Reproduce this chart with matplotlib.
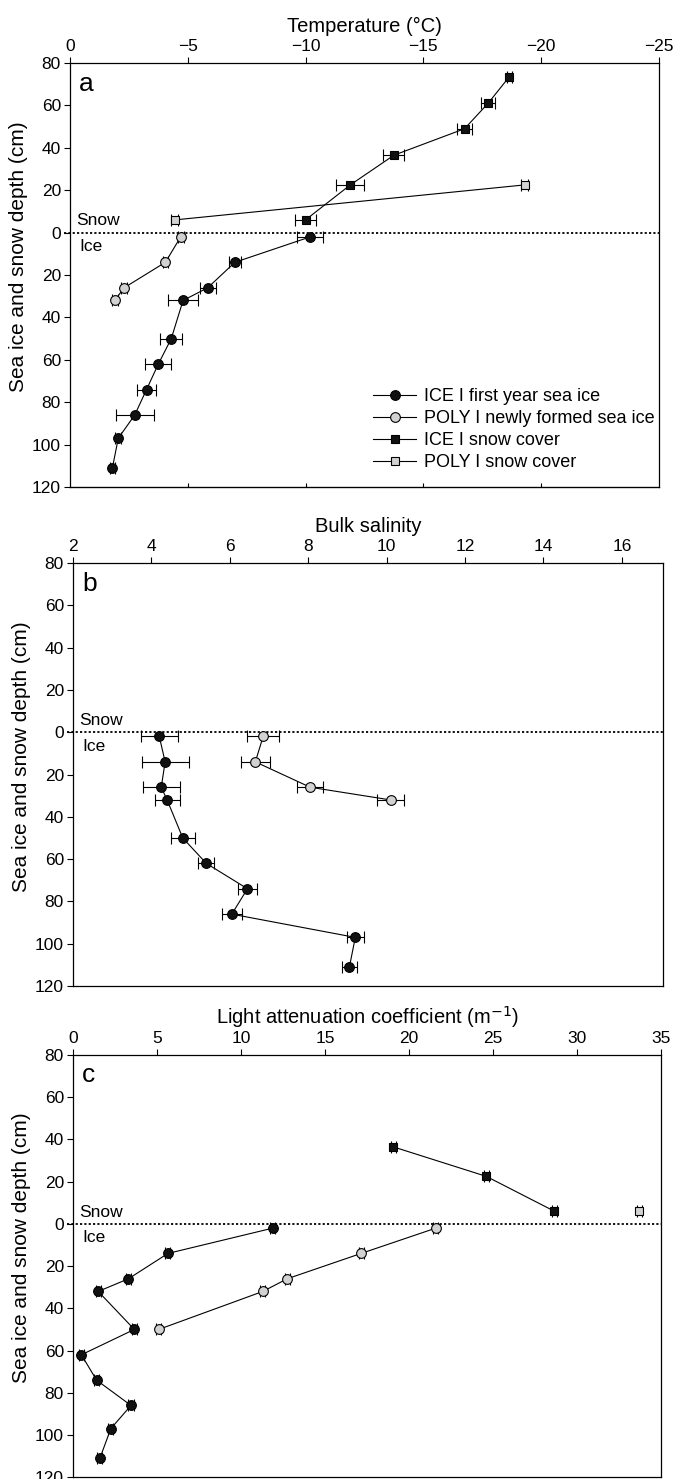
import numpy as np
import matplotlib.pyplot as plt

plt.rcParams['font.family'] = ['Liberation Sans', 'DejaVu Sans']

# depths (cm), ice positive downwards, snow heights positive upwards
ice_depth = [2, 14, 26, 32, 50, 62, 74, 86, 97, 111]
poly_depth = [2, 14, 26, 32]
poly_depth_c = [2, 14, 26, 32, 50]
ice_snow_height = [6, 22.5, 36.5, 49, 61, 73.5]
poly_snow_height = [6, 22.5]

# a: temperature (deg C)
ice_temp = [-10.2, -7.0, -5.85, -4.8, -4.3, -3.75, -3.25, -2.75, -2.05, -1.8]
ice_temp_err = [0.55, 0.25, 0.35, 0.65, 0.47, 0.55, 0.42, 0.8, 0.12, 0.12]
poly_temp = [-4.7, -4.05, -2.3, -1.9]
poly_temp_err = [0.12, 0.12, 0.12, 0.12]
ice_snow_temp = [-10.0, -11.9, -13.75, -16.75, -17.75, -18.65]
ice_snow_temp_err = [0.45, 0.6, 0.45, 0.3, 0.3, 0.1]
poly_snow_temp = [-4.45, -19.3]
poly_snow_temp_err = [0.15, 0.15]

# b: bulk salinity
ice_sal = [4.2, 4.35, 4.25, 4.4, 4.8, 5.4, 6.45, 6.05, 9.2, 9.05]
ice_sal_err = [0.47, 0.6, 0.47, 0.32, 0.3, 0.2, 0.25, 0.25, 0.22, 0.2]
poly_sal = [6.85, 6.65, 8.05, 10.1]
poly_sal_err = [0.4, 0.37, 0.33, 0.34]

# c: light attenuation coefficient (m-1)
ice_k = [11.9, 5.65, 3.3, 1.5, 3.65, 0.5, 1.4, 3.45, 2.25, 1.6]
poly_k = [21.6, 17.15, 12.75, 11.3, 5.1]
ice_snow_k = [28.65, 24.6, 19.05]
poly_snow_k = [33.7]
k_err = 0.15

gray = '#d2d2d2'


def profile(ax, x, depth, err, marker, face, ms, label=None):
    ax.errorbar(x, depth, xerr=err, fmt='none', ecolor='k', elinewidth=0.8,
                capsize=4.5, capthick=0.8, zorder=2)
    ax.plot(x, depth, color='k', lw=0.8, marker=marker, ms=ms, mfc=face,
            mec='k', mew=0.8, label=label, zorder=3)


def setup(ax, xlim, xticks, xlabel, letter):
    ax.set_xlim(xlim)
    ax.set_ylim(120, -80)
    ax.xaxis.tick_top()
    ax.xaxis.set_label_position('top')
    ax.set_xticks(xticks)
    ax.set_xlabel(xlabel, fontsize=14.5, labelpad=5)
    yt = list(range(-80, 121, 20))
    ax.set_yticks(yt)
    ax.set_yticklabels([str(abs(v)) for v in yt])
    ax.set_ylabel('Sea ice and snow depth (cm)', fontsize=15, labelpad=3)
    ax.yaxis.label.set_y(0.543)
    ax.tick_params(direction='out', length=4.5, width=0.8, labelsize=12.5, pad=2)
    for s in ax.spines.values():
        s.set_linewidth(0.9)
    ax.axhline(0, xmin=-0.01, xmax=1, color='k', lw=1.3,
               linestyle=(0, (1.2, 1.2)), clip_on=False, zorder=1)
    ax.text(0.011, -5.5, 'Snow', transform=ax.get_yaxis_transform(),
            fontsize=12.5, va='center', ha='left')
    ax.text(0.016, 6.5, 'Ice', transform=ax.get_yaxis_transform(),
            fontsize=12.5, va='center', ha='left')
    ax.text(0.015, 0.935, letter, transform=ax.transAxes, fontsize=19,
            va='baseline')


fig = plt.figure(figsize=(6.73, 14.79), dpi=100)
ax_a = fig.add_axes([0.104, 0.6707, 0.875, 0.2867])
ax_b = fig.add_axes([0.1085, 0.3333, 0.8767, 0.286])
ax_c = fig.add_axes([0.1085, 0.0012, 0.8737, 0.2855])

neg = lambda h: [-v for v in h]

# panel a
setup(ax_a, (0, -25), [0, -5, -10, -15, -20, -25], 'Temperature (°C)', 'a')
profile(ax_a, ice_temp, ice_depth, ice_temp_err, 'o', '#111111', 7, 'ICE I first year sea ice')
profile(ax_a, poly_temp, poly_depth, poly_temp_err, 'o', gray, 7, 'POLY I newly formed sea ice')
profile(ax_a, ice_snow_temp, neg(ice_snow_height), ice_snow_temp_err, 's', '#111111', 6, 'ICE I snow cover')
profile(ax_a, poly_snow_temp, neg(poly_snow_height), poly_snow_temp_err, 's', gray, 6, 'POLY I snow cover')
sec = ax_a.secondary_xaxis('bottom')
sec.set_xticks([-5, -10, -15, -20])
sec.tick_params(direction='in', length=3, width=0.8, labelbottom=False)
ax_a.legend(loc='lower right', bbox_to_anchor=(1.012, 0.012), frameon=False,
            fontsize=13, handlelength=2.4, handletextpad=0.45,
            labelspacing=0.28, borderaxespad=0.2)

# panel b
setup(ax_b, (2, 17.05), [2, 4, 6, 8, 10, 12, 14, 16], 'Bulk salinity', 'b')
profile(ax_b, ice_sal, ice_depth, ice_sal_err, 'o', '#111111', 7)
profile(ax_b, poly_sal, poly_depth, poly_sal_err, 'o', gray, 7)

# panel c
setup(ax_c, (0, 35), [0, 5, 10, 15, 20, 25, 30, 35],
      'Light attenuation coefficient (m$^{-1}$)', 'c')
profile(ax_c, ice_k, ice_depth, k_err, 'o', '#111111', 7)
profile(ax_c, poly_k, poly_depth_c, k_err, 'o', gray, 7)
profile(ax_c, ice_snow_k, neg(ice_snow_height[:3]), k_err, 's', '#111111', 6)
profile(ax_c, poly_snow_k, neg(poly_snow_height[:1]), k_err, 's', gray, 6)

fig.savefig('out.png', dpi=100)
